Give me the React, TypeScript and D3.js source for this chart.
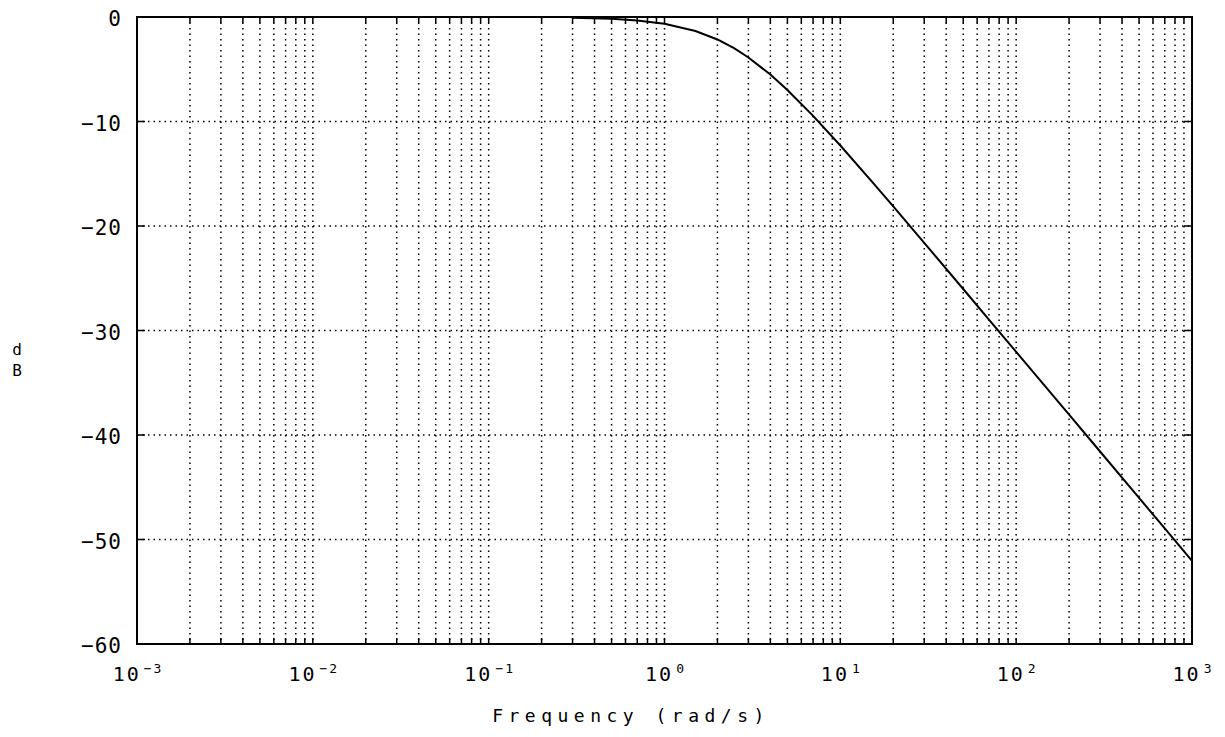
import React from "react";
import * as d3 from "d3";

const freqs = [0.3, 0.5, 0.7, 1, 1.5, 2, 2.5, 3, 4, 5, 7, 10, 15, 20, 30, 50, 70, 100, 200, 300, 500, 700, 1000];
const magDb = [-0.06, -0.17, -0.33, -0.64, -1.34, -2.15, -3.01, -3.87, -5.51, -6.99, -9.46, -12.3, -15.68, -18.13, -21.61, -26.03, -28.95, -32.04, -38.06, -41.58, -46.02, -48.94, -52.04];
const yTicks = [0, -10, -20, -30, -40, -50, -60];
const yTickLabels = ["0", "−10", "−20", "−30", "−40", "−50", "−60"];
const xDecades = [-3, -2, -1, 0, 1, 2, 3];
const xSupLabels = ["−3", "−2", "−1", "0", "1", "2", "3"];
const xLabel = "Frequency (rad/s)";
const yLabel = ["d", "B"];

const W = 1225, H = 737;
const L = 137, R = 1192, T = 17, B = 644;

export default function App() {
  const x = d3.scaleLog().domain([1e-3, 1e3]).range([L, R]);
  const y = d3.scaleLinear().domain([0, -60]).range([T, B]);
  const minor: number[] = [];
  for (let e = -3; e < 3; e++) for (let m = 2; m <= 9; m++) minor.push(m * Math.pow(10, e));
  const allV = [...minor, ...xDecades.slice(1, -1).map((e) => Math.pow(10, e))];
  const line = d3.line<number>().x((_, i) => x(freqs[i])).y((d) => y(d));
  const font = "'DejaVu Sans Mono', monospace";
  return (
    <svg width={W} height={H} style={{ position: "absolute", left: 0, top: 0, background: "#fff" }}>
      <rect x={0} y={0} width={W} height={H} fill="#fff" />
      {allV.map((v, i) => (
        <g key={"v" + i}>
          <line x1={x(v)} x2={x(v)} y1={T} y2={B} stroke="#000" strokeWidth={1.5} strokeDasharray="1.5,4" />
          <line x1={x(v)} x2={x(v)} y1={T} y2={T + 6} stroke="#000" strokeWidth={1.5} />
          <line x1={x(v)} x2={x(v)} y1={B} y2={B - 6} stroke="#000" strokeWidth={1.5} />
        </g>
      ))}
      {yTicks.slice(1, -1).map((t, i) => (
        <g key={"h" + i}>
          <line x1={L} x2={R} y1={y(t)} y2={y(t)} stroke="#000" strokeWidth={1.5} strokeDasharray="1.5,4" />
          <line x1={L} x2={L + 8} y1={y(t)} y2={y(t)} stroke="#000" strokeWidth={1.5} />
          <line x1={R} x2={R - 8} y1={y(t)} y2={y(t)} stroke="#000" strokeWidth={1.5} />
        </g>
      ))}
      <rect x={L} y={T} width={R - L} height={B - T} fill="none" stroke="#000" strokeWidth={2} />
      <path d={line(magDb) || ""} fill="none" stroke="#000" strokeWidth={2} />
      {yTicks.map((t, i) => (
        <text key={"yl" + i} x={122} y={y(t) + 9} textAnchor="end" fontFamily={font} fontSize={21} letterSpacing={1}>
          {yTickLabels[i]}
        </text>
      ))}
      {xDecades.map((e, i) => (
        <text key={"xl" + i} x={x(Math.pow(10, e)) + 1} y={681} textAnchor="middle" fontFamily={font} fontSize={20} letterSpacing={2}>
          10
          <tspan fontSize={13} dy={-8} dx={3}>{xSupLabels[i]}</tspan>
        </text>
      ))}
      <text x={631} y={722} textAnchor="middle" fontFamily={font} fontSize={18} letterSpacing={5.5}>
        {xLabel}
      </text>
      <text x={17} y={355} textAnchor="middle" fontFamily={font} fontSize={16}>{yLabel[0]}</text>
      <text x={17} y={376} textAnchor="middle" fontFamily={font} fontSize={16}>{yLabel[1]}</text>
    </svg>
  );
}
